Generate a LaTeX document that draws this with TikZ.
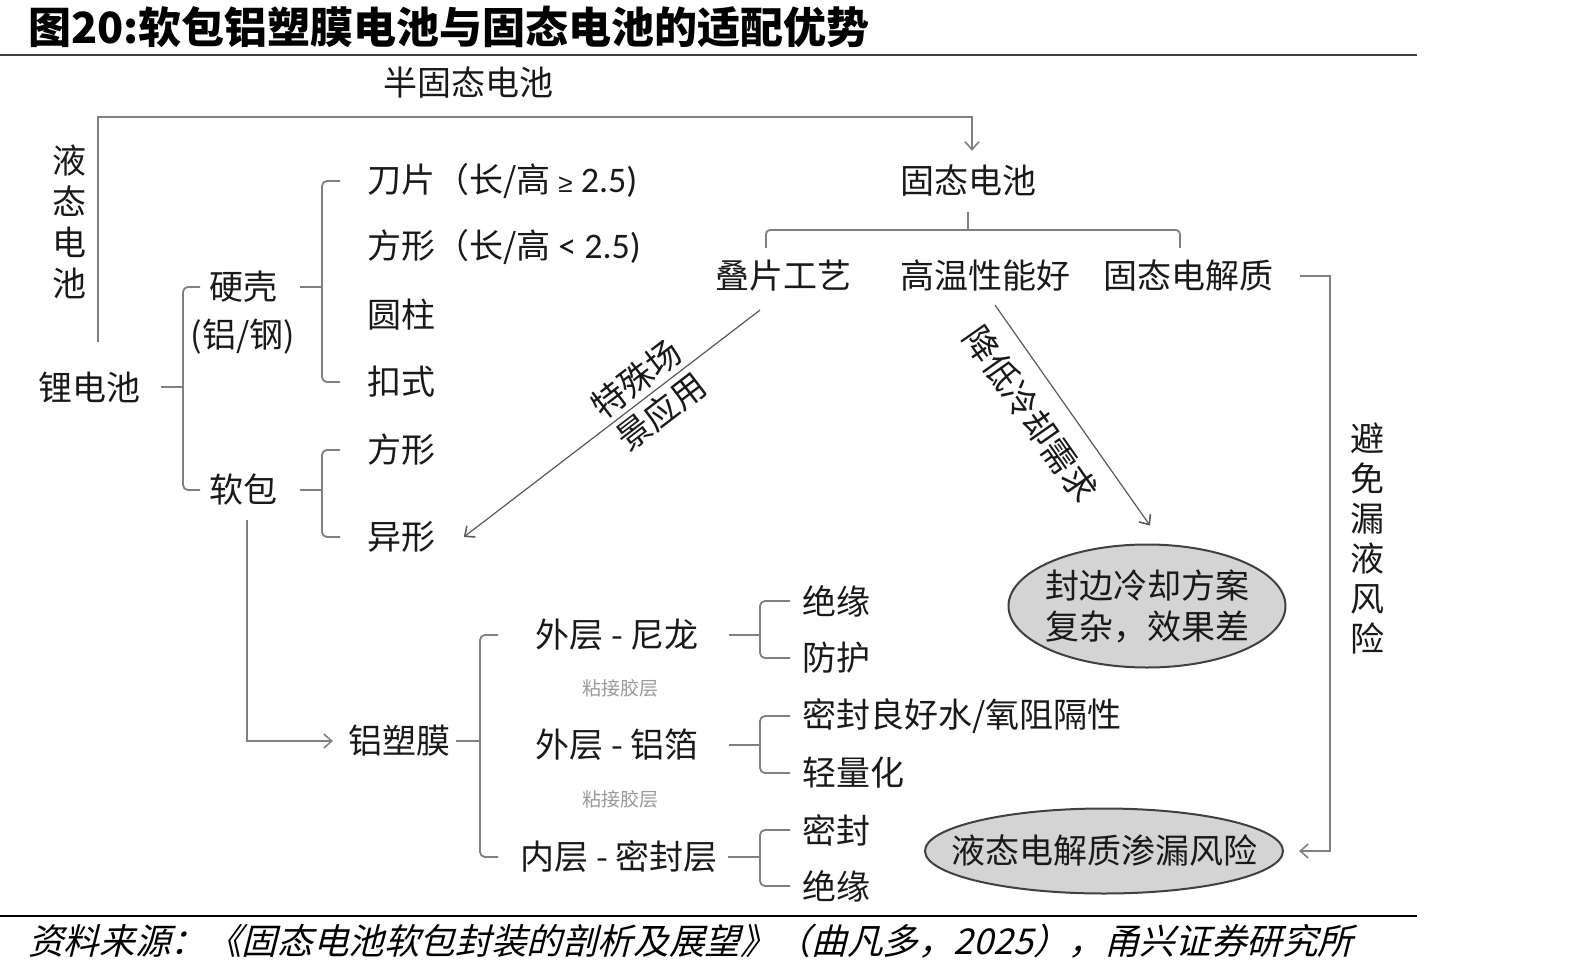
\documentclass[tikz,border=0pt]{standalone}
\usepackage{fontspec}
\setmainfont{Noto Sans CJK SC}
\newfontfamily\titlefont{Noto Sans CJK SC}
\newfontfamily\footfont[FakeSlant=0.25]{Noto Sans CJK SC}
\newfontfamily\latfont{Carlito}
\newfontfamily\symfont{Liberation Sans}
\usetikzlibrary{arrows.meta,shapes.geometric,calc}
\tikzset{
  t/.style={font=\fontsize{17}{20.5}\selectfont, text=black!90, inner sep=0pt},
  vt/.style={t, align=center},
  smalltxt/.style={font=\fontsize{9.5}{11}\selectfont, text=black!40, inner sep=0pt},
  ln/.style={draw=black!50, line width=0.9pt},
  thinln/.style={draw=black!65, line width=0.6pt},
  arr/.style={-{Straight Barb[length=4pt,width=7pt,line width=0.8pt]}},
  bub/.style={ellipse, draw=black!75, line width=1pt, fill=black!17, inner sep=0pt},
  bubtxt/.style={t, align=center},
  brace/.style={ln, rounded corners=2.5pt}
}
\begin{document}
\begin{tikzpicture}[x=0.5pt,y=-0.5pt]
\useasboundingbox (0,0) rectangle (1571,975);

% title and rules
\node[anchor=west, inner sep=0pt, text=black] (title) at (28,27)
  {\titlefont\bfseries\fontsize{21.5}{25}\selectfont 图20:软包铝塑膜电池与固态电池的适配优势};
\draw[line width=1.4pt, black!75] (0,55) -- (1417,55);
\draw[line width=0.9pt, black] (0,916) -- (1417,916);
\node[anchor=west, inner sep=0pt, text=black] (foot) at (28,941)
  {\footfont\fontsize{17.8}{20}\selectfont 资料来源：《固态电池软包封装的剖析及展望》（曲凡多，2025），甬兴证券研究所};

% nodes
\node[t] (semi) at (468,83) {半固态电池};
\node[t] (solid) at (968,181) {固态电池};
\node[vt] (liquid) at (70,222) {液\\态\\电\\池};
\node[t] (li) at (90,387) {锂电池};
\node[t] (hard) at (243,287) {硬壳};
\node[t] (hardsub) at (243,337) {(铝/钢)};
\node[t] (soft) at (243,490) {软包};
\node[t, anchor=west] (blade) at (367,181) {刀片（长/高 {\symfont\fontsize{13}{15}\selectfont ≥}{\latfont\fontsize{18}{20}\selectfont\ 2.5)}};
\node[t, anchor=west] (prism) at (367,247) {方形（长/高 {\latfont\fontsize{18}{20}\selectfont <\ 2.5)}};
\node[t, anchor=west] (cyl) at (367,315) {圆柱};
\node[t, anchor=west] (coin) at (367,382) {扣式};
\node[t, anchor=west] (sq) at (367,450) {方形};
\node[t, anchor=west] (irr) at (367,537) {异形};
\node[t, anchor=west] (alu) at (348,741) {铝塑膜};
\node[t] (nylon) at (617,635) {外层 - 尼龙};
\node[smalltxt] (glue1) at (620,688) {粘接胶层};
\node[t] (foil) at (617,745) {外层 - 铝箔};
\node[smalltxt] (glue2) at (620,799) {粘接胶层};
\node[t] (seal) at (619,857) {内层 - 密封层};
\node[t, anchor=west] (ins1) at (802,601) {绝缘};
\node[t, anchor=west] (prot) at (802,658) {防护};
\node[t, anchor=west] (barrier) at (802,716) {密封良好水/氧阻隔性};
\node[t, anchor=west] (light) at (802,773) {轻量化};
\node[t, anchor=west] (sealb) at (802,830) {密封};
\node[t, anchor=west] (ins2) at (802,886) {绝缘};
\node[t] (stack) at (783,276) {叠片工艺};
\node[t] (hot) at (985,276) {高温性能好};
\node[t] (sse) at (1188,276) {固态电解质};
\node[bub, minimum width=138.5pt, minimum height=61.5pt] (ell1) at (1147,606) {};
\node[bubtxt] (ell1t) at (ell1.center) {封边冷却方案\\复杂，效果差};
\node[bub, minimum width=179pt, minimum height=42.5pt] (ell2) at (1104,851) {};
\node[bubtxt] (ell2t) at (ell2.center) {液态电解质渗漏风险};
\node[vt, font=\fontsize{17}{20}\selectfont] (avoid) at (1367,538) {避\\免\\漏\\液\\风\\险};

% helper coordinates
\coordinate (lq) at (98,342);
\coordinate (tc) at (98,117);
\coordinate (x1) at (200,0);
\coordinate (s1) at (183,387);
\coordinate (x2) at (340,0);
\coordinate (s2) at (322,287);
\coordinate (s3) at (322,490);
\coordinate (x4) at (498,0);
\coordinate (s4) at (480,741);
\coordinate (x5) at (790,0);
\coordinate (s5) at (760,635);
\coordinate (s6) at (760,745);
\coordinate (s7) at (760,857);
\coordinate (sb) at (968,230);
\coordinate (rc) at (1330,851);

% liquid -> solid
\draw[ln, arr] (lq) -- (tc) -| ([xshift=2pt,yshift=7pt]solid.north);

% li bracket
\draw[ln] ([xshift=10pt]li.east) -- (s1);
\draw[brace] (hard.west -| x1) -| (s1) |- (soft.west -| x1);

% hard bracket
\draw[ln] ([xshift=11.5pt]hard.east) -- (s2);
\draw[brace] (blade.west -| x2) -| (s2) |- (coin.west -| x2);

% soft bracket
\draw[ln] ([xshift=11.5pt]soft.east) -- (s3);
\draw[brace] (sq.west -| x2) -| (s3) |- (irr.west -| x2);

% soft -> aluminium film
\draw[ln, arr] ([xshift=2pt,yshift=-7pt]soft.south) |- ([xshift=-7.5pt]alu.west);

% aluminium film bracket
\draw[ln] ([xshift=2.5pt]alu.east) -- (s4);
\draw[brace] (nylon.west -| x4) -| (s4) |- (seal.west -| x4);

% layer brackets
\draw[ln] ([xshift=15pt]nylon.east) -- (s5);
\draw[brace] (ins1.west -| x5) -| (s5) |- (prot.west -| x5);
\draw[ln] ([xshift=15pt]foil.east) -- (s6);
\draw[brace] (barrier.west -| x5) -| (s6) |- (light.west -| x5);
\draw[ln] ([xshift=5pt]seal.east) -- (s7);
\draw[brace] (sealb.west -| x5) -| (s7) |- (ins2.west -| x5);

% solid battery bracket
\draw[ln] ([yshift=-7.5pt]solid.south) -- (sb);
\draw[ln, rounded corners=2pt] ([xshift=-8.5pt,yshift=6pt]stack.north) |- (sb) -| ([xshift=-4pt,yshift=6pt]sse.north);

% diagonal arrows
\draw[thinln, arr] ([xshift=-11.5pt,yshift=-9pt]stack.south) -- ([xshift=14pt]irr.east)
  node[t, pos=0.376, sloped, align=center] (lab1) {特殊场\\景应用};
\draw[thinln, arr] ([xshift=5pt,yshift=-6.5pt]hot.south) -- ([xshift=1.5pt,yshift=9pt]ell1.north)
  node[t, pos=0.407, sloped, below, inner sep=8.5pt] (lab2) {降低冷却需求};

% solid electrolyte -> leakage
\draw[ln, arr] ([xshift=13.5pt]sse.east) -| (rc) -- ([xshift=7.5pt]ell2.east);

\end{tikzpicture}
\end{document}
